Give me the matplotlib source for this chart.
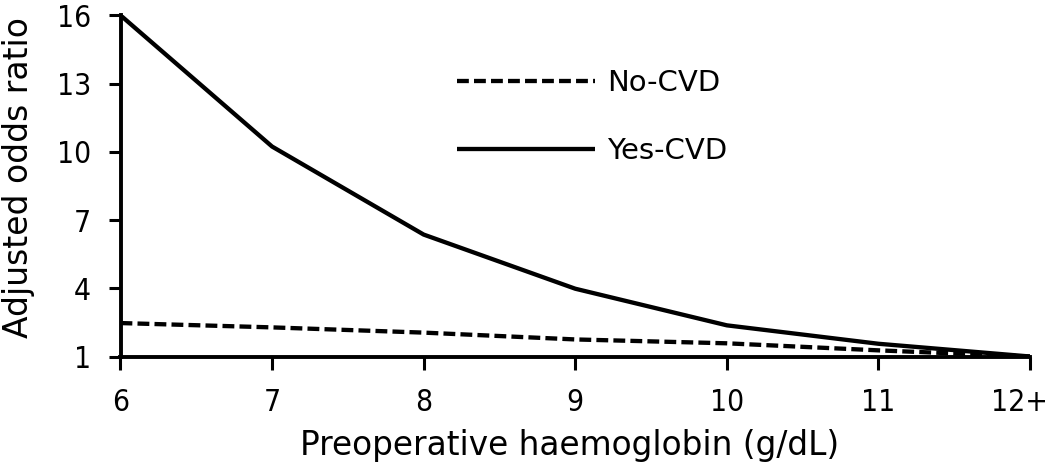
import matplotlib
matplotlib.use("Agg")
import matplotlib.pyplot as plt
from matplotlib.transforms import ScaledTranslation

# ---- data ----
haemoglobin = [6, 7, 8, 9, 10, 11, 12]
x_tick_labels = ["6", "7", "8", "9", "10", "11", "12+"]
y_ticks = [1, 4, 7, 10, 13, 16]
no_cvd = [2.47, 2.28, 2.05, 1.75, 1.58, 1.27, 1.0]
yes_cvd = [16.0, 10.23, 6.36, 3.98, 2.37, 1.56, 1.0]
series_labels = ["No-CVD", "Yes-CVD"]

plt.rcParams['font.family'] = ['DejaVu Sans']

W, H = 1050, 474
fig = plt.figure(figsize=(W / 100, H / 100), dpi=100)
left, right, top, bottom = 120.5, 1030, 15.3, 356.5
ax = fig.add_axes([left / W, 1 - bottom / H, (right - left) / W, (bottom - top) / H])

lw = 3.1
ln_no, = ax.plot(haemoglobin, no_cvd, color="black", lw=lw,
                 linestyle=(0, (2.75, 1.2)), label=series_labels[0],
                 solid_capstyle="butt", dash_capstyle="butt")
ln_yes, = ax.plot(haemoglobin, yes_cvd, color="black", lw=lw,
                  linestyle="-", label=series_labels[1], solid_capstyle="butt")

ax.set_xlim(6, 12)
ax.set_ylim(1, 16)
ax.set_xticks(haemoglobin)
ax.set_xticklabels(x_tick_labels)
ax.set_yticks(y_ticks)

for s in ["top", "right"]:
    ax.spines[s].set_visible(False)
for s in ["left", "bottom"]:
    ax.spines[s].set_linewidth(2.8)
    ax.spines[s].set_color("black")

ax.tick_params(axis="both", direction="out", length=9, width=2.2,
               colors="black", labelsize=21.5)
ax.tick_params(axis="x", pad=14)
ax.tick_params(axis="y", pad=12)
for lab in ax.get_xticklabels() + ax.get_yticklabels():
    lab.set_fontstretch("condensed")
last = ax.get_xticklabels()[-1]
last.set_transform(last.get_transform() + ScaledTranslation(-11 / 100, 0, fig.dpi_scale_trans))

ax.set_xlabel("Preoperative haemoglobin (g/dL)", fontsize=23.6, va="baseline")
ax.xaxis.set_label_coords((570 - left) / (right - left), -(455 - bottom) / (bottom - top))
ax.set_ylabel("Adjusted odds ratio", fontsize=23.8, va="center")
ax.yaxis.set_label_coords(-(left - 19) / (right - left), (bottom - 178) / (bottom - top))

leg = fig.legend(handles=[ln_no, ln_yes], loc="upper left",
                 bbox_to_anchor=(457 / W, 1 - 69 / H), frameon=False,
                 fontsize=21, handlelength=4.73, handletextpad=0.42,
                 labelspacing=1.38, borderpad=0, borderaxespad=0)

fig.savefig("out.png", dpi=100)
